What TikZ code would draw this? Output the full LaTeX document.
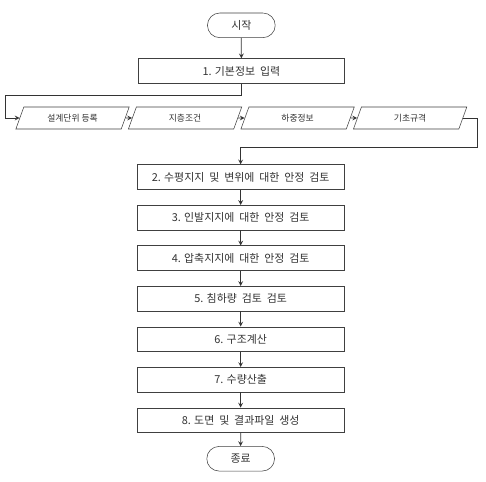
\documentclass[tikz,border=0pt]{standalone}
\usepackage{fontspec}
\setmainfont{Noto Sans CJK KR}
\usetikzlibrary{shapes.geometric, shapes.misc}

\begin{document}
\begin{tikzpicture}[
  node distance=30.4pt,
  every node/.style={text=black!80, font=\fontsize{8.2}{10}\selectfont, align=center},
  process/.style={draw=black!75, fill=white, minimum width=155pt, minimum height=18.5pt},
  terminal/.style={draw=black!75, fill=white, rounded rectangle, minimum width=57.5pt, minimum height=18.5pt},
  io/.style={draw=black!75, fill=white, trapezium, trapezium left angle=45, trapezium right angle=135,
    trapezium stretches body, minimum width=85pt, minimum height=16.5pt, inner ysep=0pt,
    font=\fontsize{6.6}{8}\selectfont},
  arrow/.style={draw=black!80, line width=0.6pt, ->, >=stealth}
]
  \useasboundingbox (0,0) rectangle (364.5pt,-361.5pt);

  \node[terminal] (start) at (181pt,-19pt) {시작};
  \node[process] (input) [below of=start, node distance=34.2pt] {1. 기본정보\ \ 입력};

  \node[io] (unit) at (54.4pt,-88.5pt) {설계단위 등록};
  \node[io] (soil) [right of=unit, node distance=84.4pt] {지층조건};
  \node[io] (load) [right of=soil, node distance=84.4pt] {하중정보};
  \node[io] (code) [right of=load, node distance=84.4pt] {기초규격};

  \node[process] (lateral) at (180.5pt,-132.75pt) {2. 수평지지\ \ 및\ \ 변위에\ \ 대한\ \ 안정\ \ 검토};
  \node[process] (uplift) [below of=lateral] {3. 인발지지에\ \ 대한\ \ 안정\ \ 검토};
  \node[process] (compress) [below of=uplift] {4. 압축지지에\ \ 대한\ \ 안정\ \ 검토};
  \node[process] (settle) [below of=compress] {5. 침하량\ \ 검토\ \ 검토};
  \node[process] (struct) [below of=settle] {6. 구조계산};
  \node[process] (qty) [below of=struct] {7. 수량산출};
  \node[process] (output) [below of=qty] {8. 도면\ \ 및\ \ 결과파일\ \ 생성};
  \node[terminal] (finish) [below of=output, node distance=28.9pt] {종료};

  \coordinate (bendL) at (3.75pt,-71.25pt);
  \coordinate (bendR) at (357.75pt,-110.25pt);

  \draw [arrow] (start) -- (input);
  \draw [arrow] (input.south) |- (bendL) |- (unit.west);
  \draw [arrow] (unit) -- (soil);
  \draw [arrow] (soil) -- (load);
  \draw [arrow] (load) -- (code);
  \draw [arrow] (code.east) -| (bendR) -| (lateral.north);
  \draw [arrow] (lateral) -- (uplift);
  \draw [arrow] (uplift) -- (compress);
  \draw [arrow] (compress) -- (settle);
  \draw [arrow] (settle) -- (struct);
  \draw [arrow] (struct) -- (qty);
  \draw [arrow] (qty) -- (output);
  \draw [arrow] (output) -- (finish);
\end{tikzpicture}
\end{document}
